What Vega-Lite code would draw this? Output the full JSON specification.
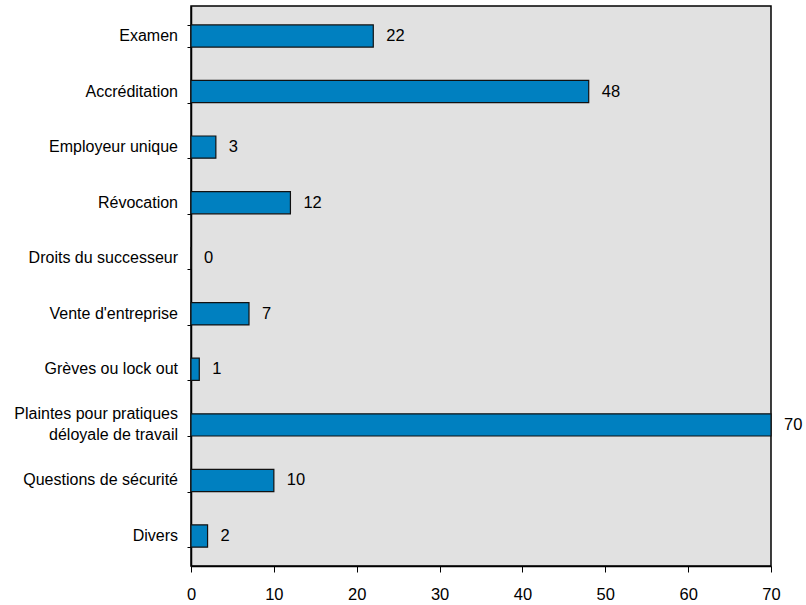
{
  "$schema": "https://vega.github.io/schema/vega-lite/v6.json",
  "autosize": {"type": "none"},
  "padding": {"left": 191, "top": 6, "right": 34, "bottom": 39},
  "width": 580,
  "height": 560,
  "background": "white",
  "config": {
    "view": {"fill": "#e1e1e1", "stroke": "#000000", "strokeWidth": 1.5},
    "font": "Liberation Sans",
    "axis": {"domainColor": "#000000", "tickColor": "#000000", "labelColor": "#000000", "grid": false, "title": null, "labelFont": "Liberation Sans"}
  },
  "data": {
    "values": [
      {"cat": "Examen", "n": 22},
      {"cat": "Accréditation", "n": 48},
      {"cat": "Employeur unique", "n": 3},
      {"cat": "Révocation", "n": 12},
      {"cat": "Droits du successeur", "n": 0},
      {"cat": "Vente d'entreprise", "n": 7},
      {"cat": "Grèves ou lock out", "n": 1},
      {"cat": "Plaintes pour pratiques|déloyale de travail", "n": 70},
      {"cat": "Questions de sécurité", "n": 10},
      {"cat": "Divers", "n": 2}
    ]
  },
  "encoding": {
    "y": {
      "field": "cat", "type": "nominal", "sort": null,
      "scale": {"paddingInner": 0.6, "paddingOuter": 0.34},
      "axis": {"tickBand": "extent", "tickSize": 4, "labels": false, "domainWidth": 1.5}
    },
    "x": {
      "field": "n", "type": "quantitative",
      "scale": {"domain": [0, 70], "nice": false},
      "axis": {"values": [0, 10, 20, 30, 40, 50, 60, 70], "tickSize": 6, "labelPadding": 14, "labelFontSize": 16.5, "domainWidth": 1.5, "labelFlush": false}
    }
  },
  "layer": [
    {"mark": {"type": "bar", "fill": "#0080c0", "stroke": "#111111", "strokeWidth": 1.2}},
    {"mark": {"type": "text", "align": "left", "baseline": "middle", "dx": 13, "fontSize": 16.5, "color": "#000000"}, "encoding": {"text": {"field": "n", "type": "quantitative"}}},
    {"mark": {"type": "text", "align": "right", "baseline": "middle", "dx": -13, "fontSize": 16, "lineHeight": 21, "lineBreak": "|", "color": "#000000",
      "dy": {"expr": "indexof(datum.cat, '|') >= 0 ? -10.5 : 0"}},
     "encoding": {"x": {"datum": 0}, "text": {"field": "cat", "type": "nominal"}}}
  ]
}
